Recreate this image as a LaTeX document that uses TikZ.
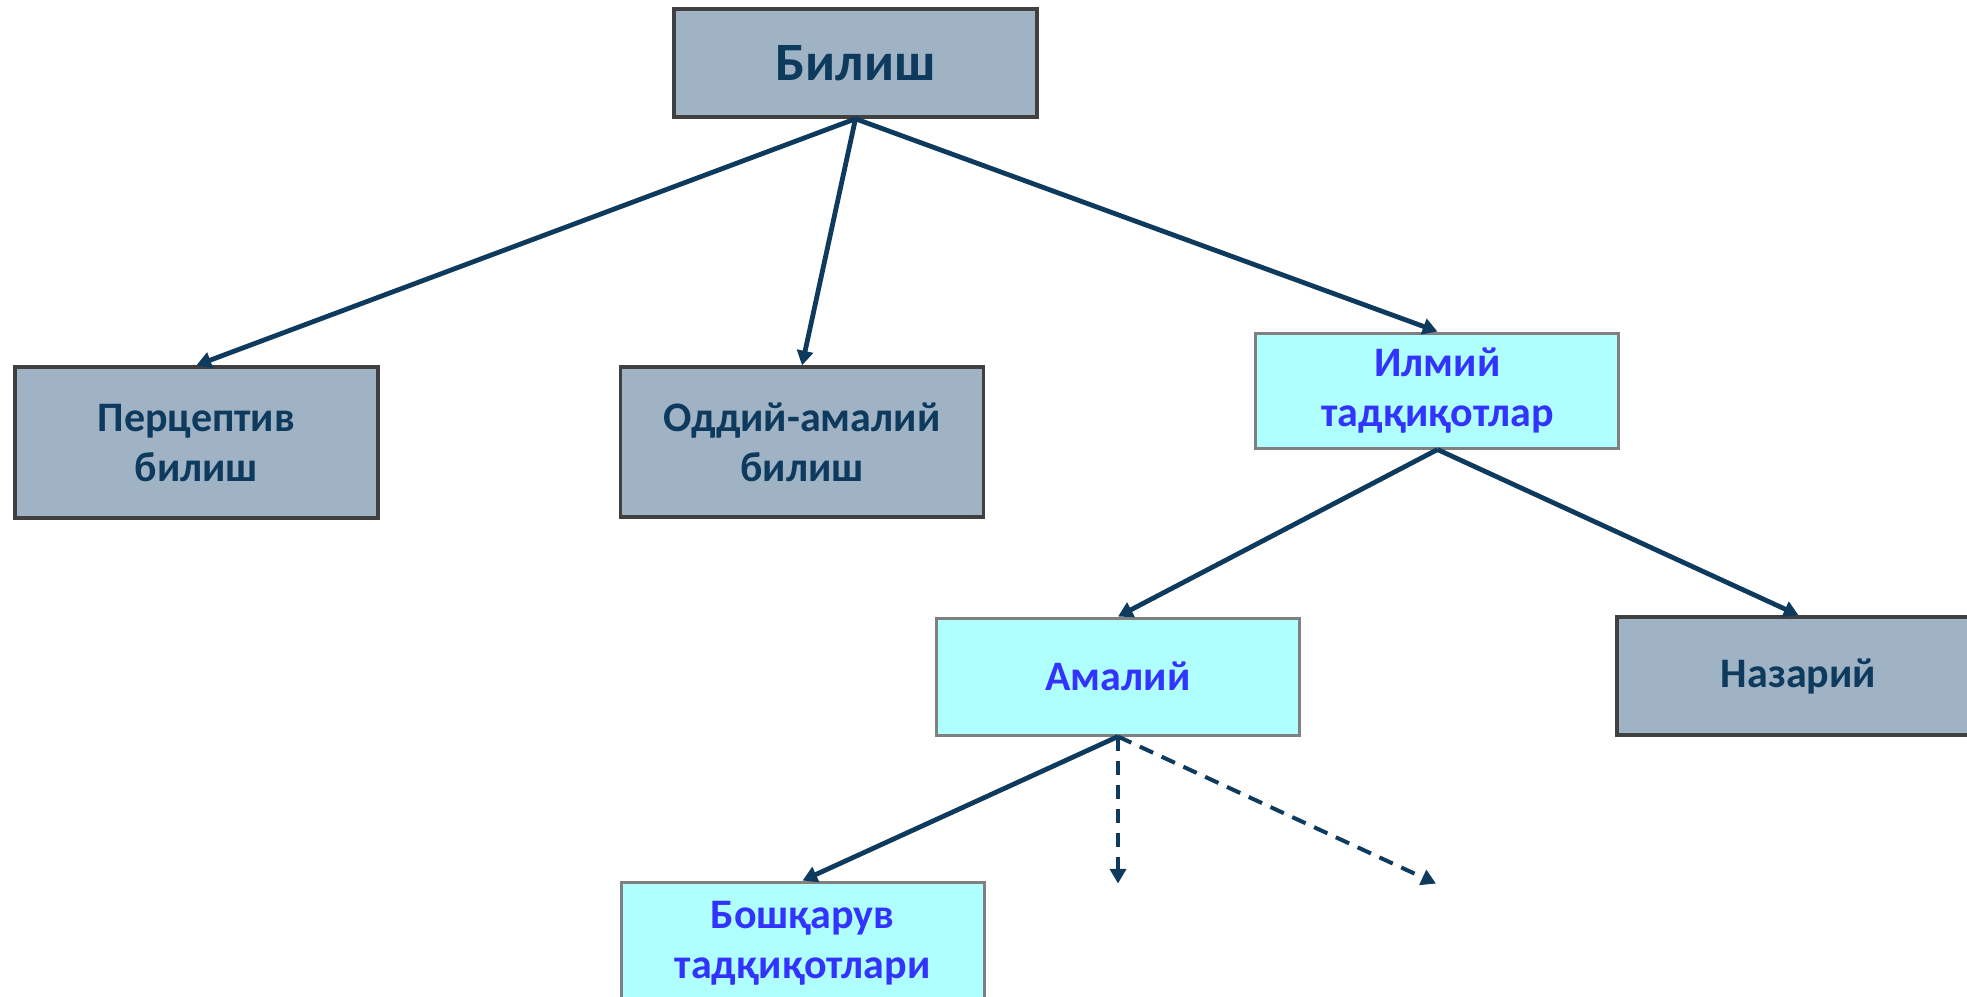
\documentclass[tikz,border=0pt]{standalone}
\usepackage{fontspec}
\setmainfont{Carlito}
\usepackage{xcolor}
\usepackage{tikz}
\usetikzlibrary{positioning,arrows.meta}
\definecolor{navy}{RGB}{14,58,94}
\definecolor{greyfill}{RGB}{159,179,196}
\definecolor{boxedge}{RGB}{64,64,64}
\definecolor{cyanfill}{RGB}{176,255,255}
\definecolor{cyanedge}{RGB}{128,128,128}
\definecolor{bluetext}{RGB}{51,51,255}

\begin{document}
\begin{tikzpicture}[on grid,
  box/.style={rectangle, inner sep=0pt, minimum width=272.25pt, align=center,
    font=\fontsize{31.5}{37.5}\selectfont\bfseries},
  greybox/.style={box, draw=boxedge, fill=greyfill, text=navy, line width=2.6pt},
  cyanbox/.style={box, draw=cyanedge, fill=cyanfill, text=bluetext, line width=2.25pt},
  link/.style={draw=navy, line width=3.6pt, -{Triangle[length=11pt,width=12pt]}},
  dashlink/.style={link, line width=3pt, dash pattern=on 11pt off 7pt}]

\useasboundingbox (0,0) rectangle (1475.25pt,-747pt);
\clip (0,0) rectangle (1475.25pt,-747pt);

\node(BILISH)  [greybox, minimum height=81pt, font=\fontsize{40.5}{48}\selectfont\bfseries]
               at (641.6pt,-47.3pt) {Билиш};
\node(PERC)    [greybox, minimum height=113.25pt, below left=284.6pt and 494.3pt of BILISH] {Перцептив\\билиш};
\node(ODDIY)   [greybox, minimum height=112.5pt, below left=284.3pt and 40.1pt of BILISH] {Оддий-амалий\\билиш};
\node(ILMIY)   [cyanbox, minimum height=86.25pt, below right=245.6pt and 436.5pt of BILISH] {Илмий\\тадқиқотлар};
\node(AMALIY)  [cyanbox, minimum height=87.75pt, below left=214.5pt and 239.6pt of ILMIY] {Амалий};
\node(NAZARIY) [greybox, minimum height=88.5pt, below right=214.1pt and 270.8pt of ILMIY] {Назарий};
\node(BOSH)    [cyanbox, minimum height=91.5pt, below left=199.9pt and 236.6pt of AMALIY] {Бошқарув\\тадқиқотлари};

% open ends of the dashed links
\coordinate[below=110.25pt of AMALIY.south] (DOWN);
\coordinate[below right=110.25pt and 238.5pt of AMALIY.south] (SIDE);

\draw[link](BILISH.south) -- (PERC.north);
\draw[link](BILISH.south) -- (ODDIY.north);
\draw[link](BILISH.south) -- (ILMIY.north);
\draw[link](ILMIY.south)  -- (AMALIY.north);
\draw[link](ILMIY.south)  -- (NAZARIY.north);
\draw[link](AMALIY.south) -- (BOSH.north);
\draw[dashlink](AMALIY.south) -- (DOWN);
\draw[dashlink](AMALIY.south) -- (SIDE);
\end{tikzpicture}
\end{document}
